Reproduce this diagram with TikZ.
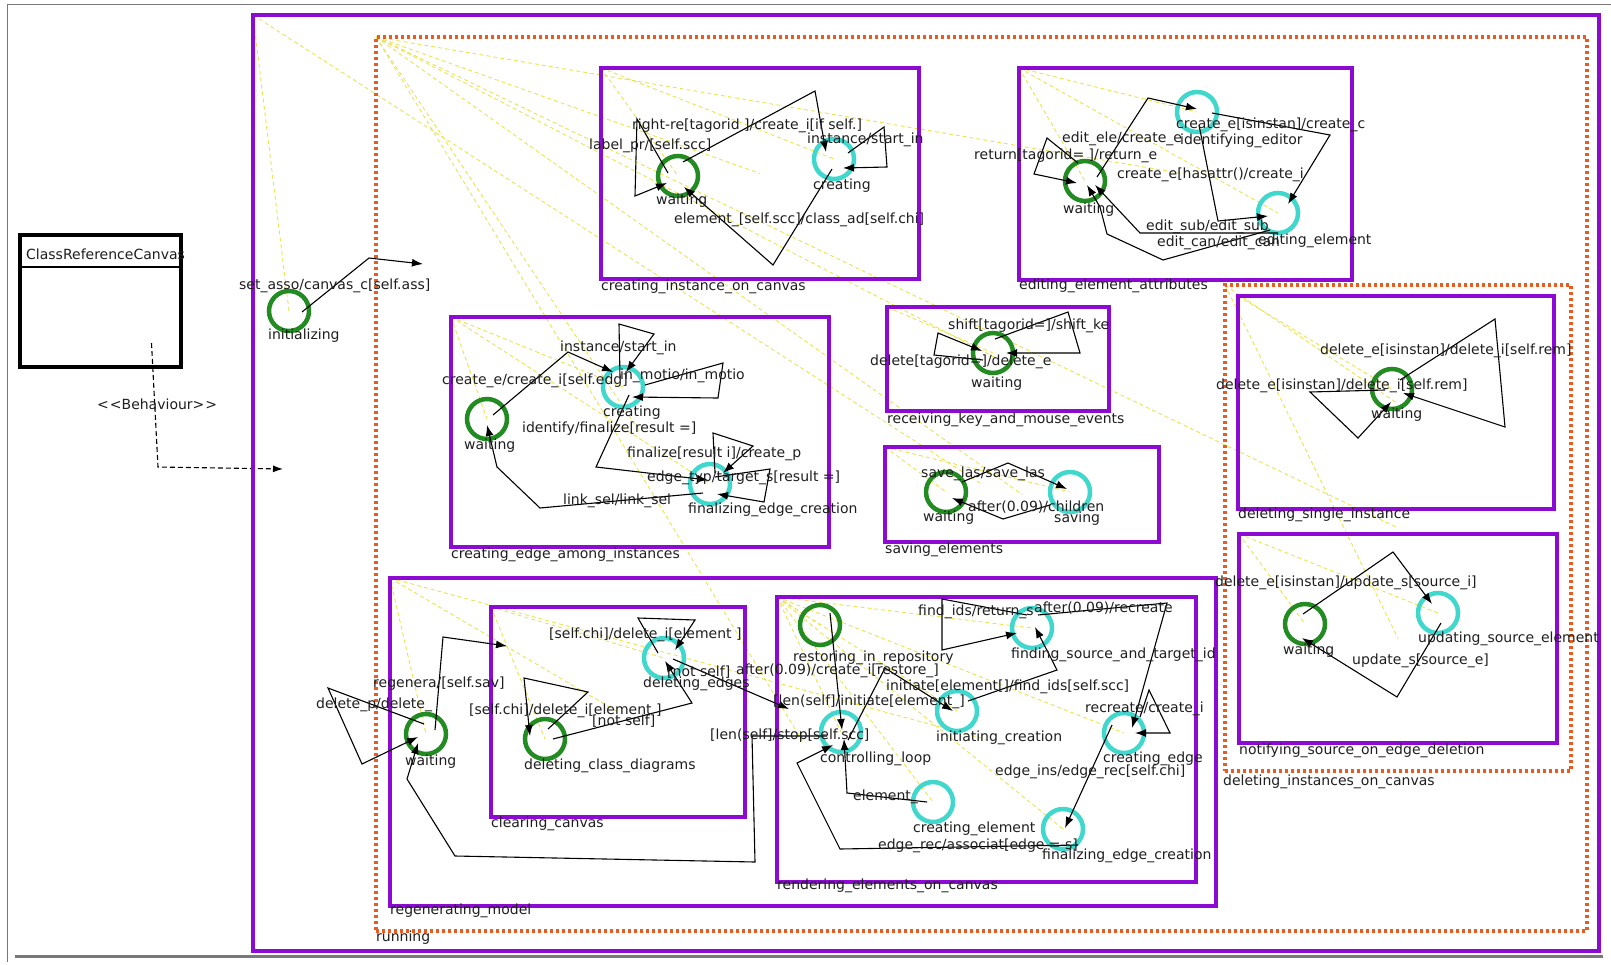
\documentclass[tikz,border=0pt]{standalone}
\usepackage{fontspec}
\setmainfont{DejaVu Sans}
\usetikzlibrary{arrows.meta}
\pgfdeclarelayer{bg}
\pgfsetlayers{bg,main}

\definecolor{statepurple}{RGB}{140,10,210}
\definecolor{regionorange}{RGB}{235,90,30}
\definecolor{initgreen}{RGB}{34,139,34}
\definecolor{stateteal}{RGB}{64,215,205}
\definecolor{containyellow}{RGB}{236,226,80}
\definecolor{labelgray}{RGB}{30,30,30}
\definecolor{framegray}{RGB}{120,120,120}

\tikzset{
  composite/.style={draw=statepurple, line width=4pt, inner sep=0pt, outer sep=0pt, rectangle},
  region/.style={draw=regionorange, line width=3.5pt, dash pattern=on 3pt off 3pt, inner sep=0pt, outer sep=0pt, rectangle},
  classbox/.style={draw=black, line width=4pt, inner sep=0pt, outer sep=0pt, rectangle},
  initstate/.style={circle, draw=initgreen, line width=4.5pt, minimum size=40pt, inner sep=0pt},
  simplestate/.style={circle, draw=stateteal, line width=4.5pt, minimum size=40pt, inner sep=0pt},
  txt/.style={inner sep=0pt, anchor=mid west, font=\fontsize{14}{16}\selectfont, text=labelgray},
  trans/.style={draw=black, line width=1.1pt, -{Latex[length=11pt,width=8pt]}},
  depend/.style={draw=black, line width=1.1pt, dash pattern=on 5pt off 3pt, -{Latex[length=10pt,width=7pt]}},
  contain/.style={draw=containyellow, line width=0.9pt, dash pattern=on 4pt off 3pt},
}
\newcommand\placelabel[4]{\node[txt] (#1) at (#2,#3) {#4};}

\begin{document}
\begin{tikzpicture}[x=1pt,y=-1pt]
\useasboundingbox (0,0) rectangle (1611,964);

% window frame
\draw[framegray, line width=1pt] (7,962) -- (7,4) -- (1611,4);
\draw[framegray, line width=3pt] (15,956) -- (1603,956);

% class and its behaviour link
\node[classbox, minimum width=161pt, minimum height=132pt] (cls) at (100.5,301) {};
\draw[line width=1.2pt] ([shift={(0,32)}]cls.north west) -- ([shift={(0,32)}]cls.north east);
\placelabel{clsname}{26}{257}{ClassReferenceCanvas}
\coordinate (behend) at (283,469);
\draw[depend] ([shift={(51,42)}]cls.center) -- (158,467) -- (behend);
\placelabel{behlbl}{97}{407}{\textless\kern1pt\textless Behaviour\textgreater\kern1pt\textgreater}

% composite states and regions
\node[composite, minimum width=1346pt, minimum height=936pt] (root) at (926,483) {};
\node[region, minimum width=1211pt, minimum height=894pt] (runreg) at (981.5,484) {};
\node[composite, minimum width=318pt, minimum height=211pt] (ci) at (760,173.5) {};
\node[composite, minimum width=333pt, minimum height=212pt] (ee) at (1185.5,174) {};
\node[composite, minimum width=378pt, minimum height=230pt] (ce) at (640,432) {};
\node[composite, minimum width=222pt, minimum height=104pt] (rk) at (998,359) {};
\node[composite, minimum width=274pt, minimum height=95pt] (se) at (1022,494.5) {};
\node[region, minimum width=346pt, minimum height=486pt] (di) at (1398,528) {};
\node[composite, minimum width=316pt, minimum height=213pt] (ds) at (1396,402.5) {};
\node[composite, minimum width=318pt, minimum height=209pt] (ns) at (1398,638.5) {};
\node[composite, minimum width=826pt, minimum height=328pt] (rm) at (803,742) {};
\node[composite, minimum width=254pt, minimum height=210pt] (cc) at (618,712) {};
\node[composite, minimum width=419pt, minimum height=285pt] (re) at (986.5,739.5) {};

% simple states
\node[initstate] (init) at (289,311) {};
\node[initstate] (ciW) at (678,176) {};
\node[simplestate] (ciC) at (834,159) {};
\node[initstate] (eeW) at (1085,181) {};
\node[simplestate] (eeI) at (1197,112) {};
\node[simplestate] (eeE) at (1278,213) {};
\node[initstate] (ceW) at (487,419) {};
\node[simplestate] (ceC) at (623,387) {};
\node[simplestate] (ceF) at (710,484) {};
\node[initstate] (rkW) at (993,353) {};
\node[initstate] (seW) at (946,492) {};
\node[simplestate] (seS) at (1070,492) {};
\node[initstate] (dsW) at (1392,389) {};
\node[initstate] (nsW) at (1305,624) {};
\node[simplestate] (nsU) at (1438,613) {};
\node[initstate] (rmW) at (426,734) {};
\node[initstate] (ccD) at (545,739) {};
\node[simplestate] (ccE) at (664,658) {};
\node[initstate] (reR) at (820,625) {};
\node[simplestate] (reC) at (841,732) {};
\node[simplestate] (reI) at (957,711) {};
\node[simplestate] (reF) at (1032,628) {};
\node[simplestate] (reE) at (1124,733) {};
\node[simplestate] (reM) at (933,802) {};
\node[simplestate] (reZ) at (1063,829) {};

% containment lines from each parent corner to its children
\begin{pgfonlayer}{bg}
\foreach \p/\c in {root/init, root/runreg,
  runreg/ci, runreg/ee, runreg/ce, runreg/rk, runreg/se, runreg/di, runreg/rm,
  ci/ciW, ci/ciC, ee/eeW, ee/eeI, ee/eeE, ce/ceW, ce/ceC, ce/ceF,
  rk/rkW, se/seW, se/seS, di/ds, di/ns, ds/dsW, ns/nsW, ns/nsU,
  rm/rmW, rm/cc, rm/re, cc/ccD, cc/ccE,
  re/reR, re/reC, re/reI, re/reF, re/reE, re/reM, re/reZ}
  \draw[contain] (\p.north west) -- (\c.center);
\end{pgfonlayer}

% top level
\coordinate (runin) at (423,264);
\draw[trans] ([shift={(13,1)}]init.center) -- (369,258) -- (runin);

% creating_instance_on_canvas
\draw[trans] ([shift={(5,-14)}]ciW.center) -- (815,91) -- ([shift={(-8,-7)}]ciC.center);
\draw[trans] ([shift={(-10,-3)}]ciW.center) -- (637,119) -- (635,196) -- ([shift={(-11,7)}]ciW.center);
\draw[trans] ([shift={(14,-6)}]ciC.center) -- (884,127) -- (887,167) -- ([shift={(9,9)}]ciC.center);
\draw[trans] ([shift={(-2,10)}]ciC.center) -- (773,265) -- ([shift={(6,11)}]ciW.center);

% editing_element_attributes
\draw[trans] ([shift={(-7,-18)}]eeW.center) -- (1047,138) -- (1034,174) -- ([shift={(-8,2)}]eeW.center);
\draw[trans] ([shift={(12,-4)}]eeW.center) -- (1148,98) -- ([shift={(0,-3)}]eeI.center);
\draw[trans] ([shift={(15,1)}]eeI.center) -- (1330,135) -- ([shift={(10,-9)}]eeE.center);
\draw[trans] ([shift={(2,13)}]eeI.center) -- (1218,221) -- ([shift={(-10,3)}]eeE.center);
\draw[trans] ([shift={(0,20)}]eeE.center) -- (1140,233) -- ([shift={(10,4)}]eeW.center);
\draw[trans] ([shift={(-8,17)}]eeE.center) -- (1163,260) -- (1107,234) -- (1100,207) -- ([shift={(2,4)}]eeW.center);

% creating_edge_among_instances
\draw[trans] ([shift={(6,-4)}]ceW.center) -- (568,352) -- ([shift={(-10,-15)}]ceC.center);
\draw[trans] ([shift={(-3,-10)}]ceC.center) -- (619,324) -- (654,334) -- ([shift={(3,-15)}]ceC.center);
\draw[trans] ([shift={(22,-2)}]ceC.center) -- (723,363) -- (718,398) -- ([shift={(9,10)}]ceC.center);
\draw[trans] ([shift={(6,8)}]ceC.center) -- (596,467) -- ([shift={(-2,-4)}]ceF.center);
\draw[trans] ([shift={(5,-11)}]ceF.center) -- (713,433) -- (753,446) -- ([shift={(13,-11)}]ceF.center);
\draw[trans] ([shift={(5,-7)}]ceF.center) -- (770,469) -- (764,502) -- ([shift={(7,10)}]ceF.center);
\draw[trans] ([shift={(-7,9)}]ceF.center) -- (540,508) -- (497,467) -- ([shift={(0,6)}]ceW.center);

% receiving_key_and_mouse_events
\draw[trans] ([shift={(2,-14)}]rkW.center) -- (1068,312) -- (1080,353) -- ([shift={(13,0)}]rkW.center);
\draw[trans] ([shift={(-10,7)}]rkW.center) -- (934,355) -- (938,333) -- ([shift={(-11,-2)}]rkW.center);

% saving_elements
\draw[trans] ([shift={(16,-10)}]seW.center) -- (1008,463) -- ([shift={(-3,-3)}]seS.center);
\draw[trans] ([shift={(-20,13)}]seS.center) -- (1003,519) -- ([shift={(6,6)}]seW.center);

% deleting_singie_instance
\draw[trans] ([shift={(8,-9)}]dsW.center) -- (1495,319) -- (1505,427) -- ([shift={(11,4)}]dsW.center);
\draw[trans] ([shift={(-7,1)}]dsW.center) -- (1310,392) -- (1358,438) -- ([shift={(-1,13)}]dsW.center);

% notifying_source_on_edge_deletion
\draw[trans] ([shift={(-2,-10)}]nsW.center) -- (1393,552) -- ([shift={(-6,-9)}]nsU.center);
\draw[trans] ([shift={(3,10)}]nsU.center) -- (1397,697) -- ([shift={(-3,14)}]nsW.center);

% regenerating_model
\draw[trans] ([shift={(-2,-10)}]rmW.center) -- (328,688) -- (362,764) -- ([shift={(-8,3)}]rmW.center);
\draw[trans] ([shift={(9,-4)}]rmW.center) -- (443,637) -- ([shift={(16,39)}]cc.north west);
\draw[trans] ([shift={(-14,4)}]reC.center) -- (752,736) -- (755,862) -- (455,856) -- (407,779) -- ([shift={(-8,9)}]rmW.center);

% clearing_canvas
\draw[trans] ([shift={(3,-10)}]ccD.center) -- (588,692) -- (524,678) -- ([shift={(-15,-3)}]ccD.center);
\draw[trans] ([shift={(8,0)}]ccD.center) -- (692,703) -- ([shift={(1,3)}]ccE.center);
\draw[trans] ([shift={(-6,-5)}]ccE.center) -- (638,618) -- (695,620) -- ([shift={(11,-8)}]ccE.center);
\draw[trans] ([shift={(9,1)}]ccE.center) -- ([shift={(12,112)}]re.north west);

% rendering_elements_on_canvas
\draw[trans] ([shift={(10,-12)}]reR.center) -- ([shift={(1,-2)}]reC.center);
\draw[trans] ([shift={(7,8)}]reC.center) -- (885,668) -- ([shift={(-4,0)}]reI.center);
\draw[trans] ([shift={(11,-10)}]reI.center) -- (1057,670) -- ([shift={(3,-1)}]reF.center);
\draw[trans] ([shift={(-5,-13)}]reF.center) -- (942,599) -- (942,650) -- ([shift={(-15,5)}]reF.center);
\draw[trans] ([shift={(6,-13)}]reF.center) -- (1167,603) -- ([shift={(8,-5)}]reE.center);
\draw[trans] ([shift={(16,-16)}]reE.center) -- (1149,690) -- (1170,733) -- ([shift={(11,0)}]reE.center);
\draw[trans] ([shift={(-12,-8)}]reE.center) -- ([shift={(2,-1)}]reZ.center);
\draw[trans] ([shift={(15,16)}]reZ.center) -- (840,849) -- (797,763) -- ([shift={(-8,13)}]reC.center);
\draw[trans] ([shift={(-6,0)}]reM.center) -- (847,793) -- ([shift={(3,7)}]reC.center);

% composite state names
\placelabel{lci}{601}{288}{creating\_instance\_on\_canvas}
\placelabel{lee}{1019}{287}{editing\_element\_attributes}
\placelabel{lce}{451}{556}{creating\_edge\_among\_instances}
\placelabel{lrk}{887}{421}{receiving\_key\_and\_mouse\_events}
\placelabel{lse}{885}{551}{saving\_elements}
\placelabel{ldi}{1223}{783}{deleting\_instances\_on\_canvas}
\placelabel{lds}{1238}{516}{deleting\_singie\_instance}
\placelabel{lns}{1239}{752}{notifying\_source\_on\_edge\_deletion}
\placelabel{lrm}{390}{912}{regenerating\_model}
\placelabel{lcc}{491}{825}{clearing\_canvas}
\placelabel{lre}{777}{887}{rendering\_elements\_on\_canvas}
\placelabel{lrun}{376}{939}{running}

% simple state names
\placelabel{linit}{268}{337}{initializing}
\placelabel{lciW}{656}{202}{waiting}
\placelabel{lciC}{813}{187}{creating}
\placelabel{leeW}{1063}{211}{waiting}
\placelabel{leeI}{1180}{142}{identifying\_editor}
\placelabel{leeE}{1258}{242}{editing\_element}
\placelabel{lceW}{464}{447}{waiting}
\placelabel{lceC}{603}{414}{creating}
\placelabel{lceF}{688}{511}{finalizing\_edge\_creation}
\placelabel{lrkW}{971}{385}{waiting}
\placelabel{lseW}{923}{519}{waiting}
\placelabel{lseS}{1054}{520}{saving}
\placelabel{ldsW}{1371}{416}{waiting}
\placelabel{lnsW}{1283}{652}{waiting}
\placelabel{lnsU}{1418}{640}{updating\_source\_element}
\placelabel{lrmW}{405}{763}{waiting}
\placelabel{lccD}{524}{767}{deleting\_class\_diagrams}
\placelabel{lccE}{643}{685}{deleting\_edges}
\placelabel{lreR}{793}{659}{restoring\_in\_repository}
\placelabel{lreC}{820}{760}{controlling\_loop}
\placelabel{lreI}{936}{739}{initiating\_creation}
\placelabel{lreF}{1011}{656}{finding\_source\_and\_target\_id}
\placelabel{lreE}{1103}{760}{creating\_edge}
\placelabel{lreM}{913}{830}{creating\_element}
\placelabel{lreZ}{1042}{857}{finalizing\_edge\_creation}

% transition labels
\placelabel{t00}{239}{287}{set\_asso/canvas\_c[self.ass]}
\placelabel{t01}{632}{127}{right-re[tagorid ]/create\_i[if self.]}
\placelabel{t02}{589}{147}{label\_pr/[self.scc]}
\placelabel{t03}{807}{141}{instance/start\_in}
\placelabel{t04}{674}{221}{element\_[self.scc]/class\_ad[self.chi]}
\placelabel{t05}{974}{157}{return[tagorid= ]/return\_e}
\placelabel{t06}{1062}{140}{edit\_ele/create\_e}
\placelabel{t07}{1176}{126}{create\_e[isinstan]/create\_c}
\placelabel{t08}{1117}{176}{create\_e[hasattr()/create\_i}
\placelabel{t09}{1146}{228}{edit\_sub/edit\_sub}
\placelabel{t10}{1157}{244}{edit\_can/edit\_can}
\placelabel{t11}{442}{382}{create\_e/create\_i[self.edg]}
\placelabel{t12}{560}{349}{instance/start\_in}
\placelabel{t13}{620}{377}{in\_motio/in\_motio}
\placelabel{t14}{522}{430}{identify/finalize[result =]}
\placelabel{t15}{627}{455}{finalize[result i]/create\_p}
\placelabel{t16}{647}{479}{edge\_typ/target\_s[result =]}
\placelabel{t17}{563}{502}{link\_sel/link\_sel}
\placelabel{t18}{948}{327}{shift[tagorid=]/shift\_ke}
\placelabel{t19}{870}{363}{delete[tagorid=]/delete\_e}
\placelabel{t20}{921}{475}{save\_las/save\_las}
\placelabel{t21}{968}{509}{after(0.09)/children}
\placelabel{t22}{1320}{352}{delete\_e[isinstan]/delete\_i[self.rem]}
\placelabel{t23}{1216}{387}{delete\_e[isinstan]/delete\_i[self.rem]}
\placelabel{t24}{1215}{584}{delete\_e[isinstan]/update\_s[source\_i]}
\placelabel{t25}{1352}{662}{update\_s[source\_e]}
\placelabel{t26}{316}{706}{delete\_p/delete\_}
\placelabel{t27}{373}{685}{regenera/[self.sav]}
\placelabel{t28}{710}{737}{[len(self]/stop[self.scc]}
\placelabel{t29}{469}{712}{[self.chi]/delete\_i[element ]}
\placelabel{t30}{592}{723}{[not self]}
\placelabel{t31}{549}{636}{[self.chi]/delete\_i[element ]}
\placelabel{t32}{667}{674}{[not self]}
\placelabel{t33}{736}{672}{after(0.09)/create\_i[restore\_]}
\placelabel{t34}{773}{703}{[len(self]/initiate[element\_]}
\placelabel{t35}{886}{688}{initiate[element[]/find\_ids[self.scc]}
\placelabel{t36}{918}{613}{find\_ids/return\_s}
\placelabel{t37}{1034}{610}{after(0.09)/recreate}
\placelabel{t38}{1085}{710}{recreate/create\_i}
\placelabel{t39}{995}{773}{edge\_ins/edge\_rec[self.chi]}
\placelabel{t40}{878}{847}{edge\_rec/associat[edge = s]}
\placelabel{t41}{853}{798}{element\_}
\end{tikzpicture}
\end{document}
